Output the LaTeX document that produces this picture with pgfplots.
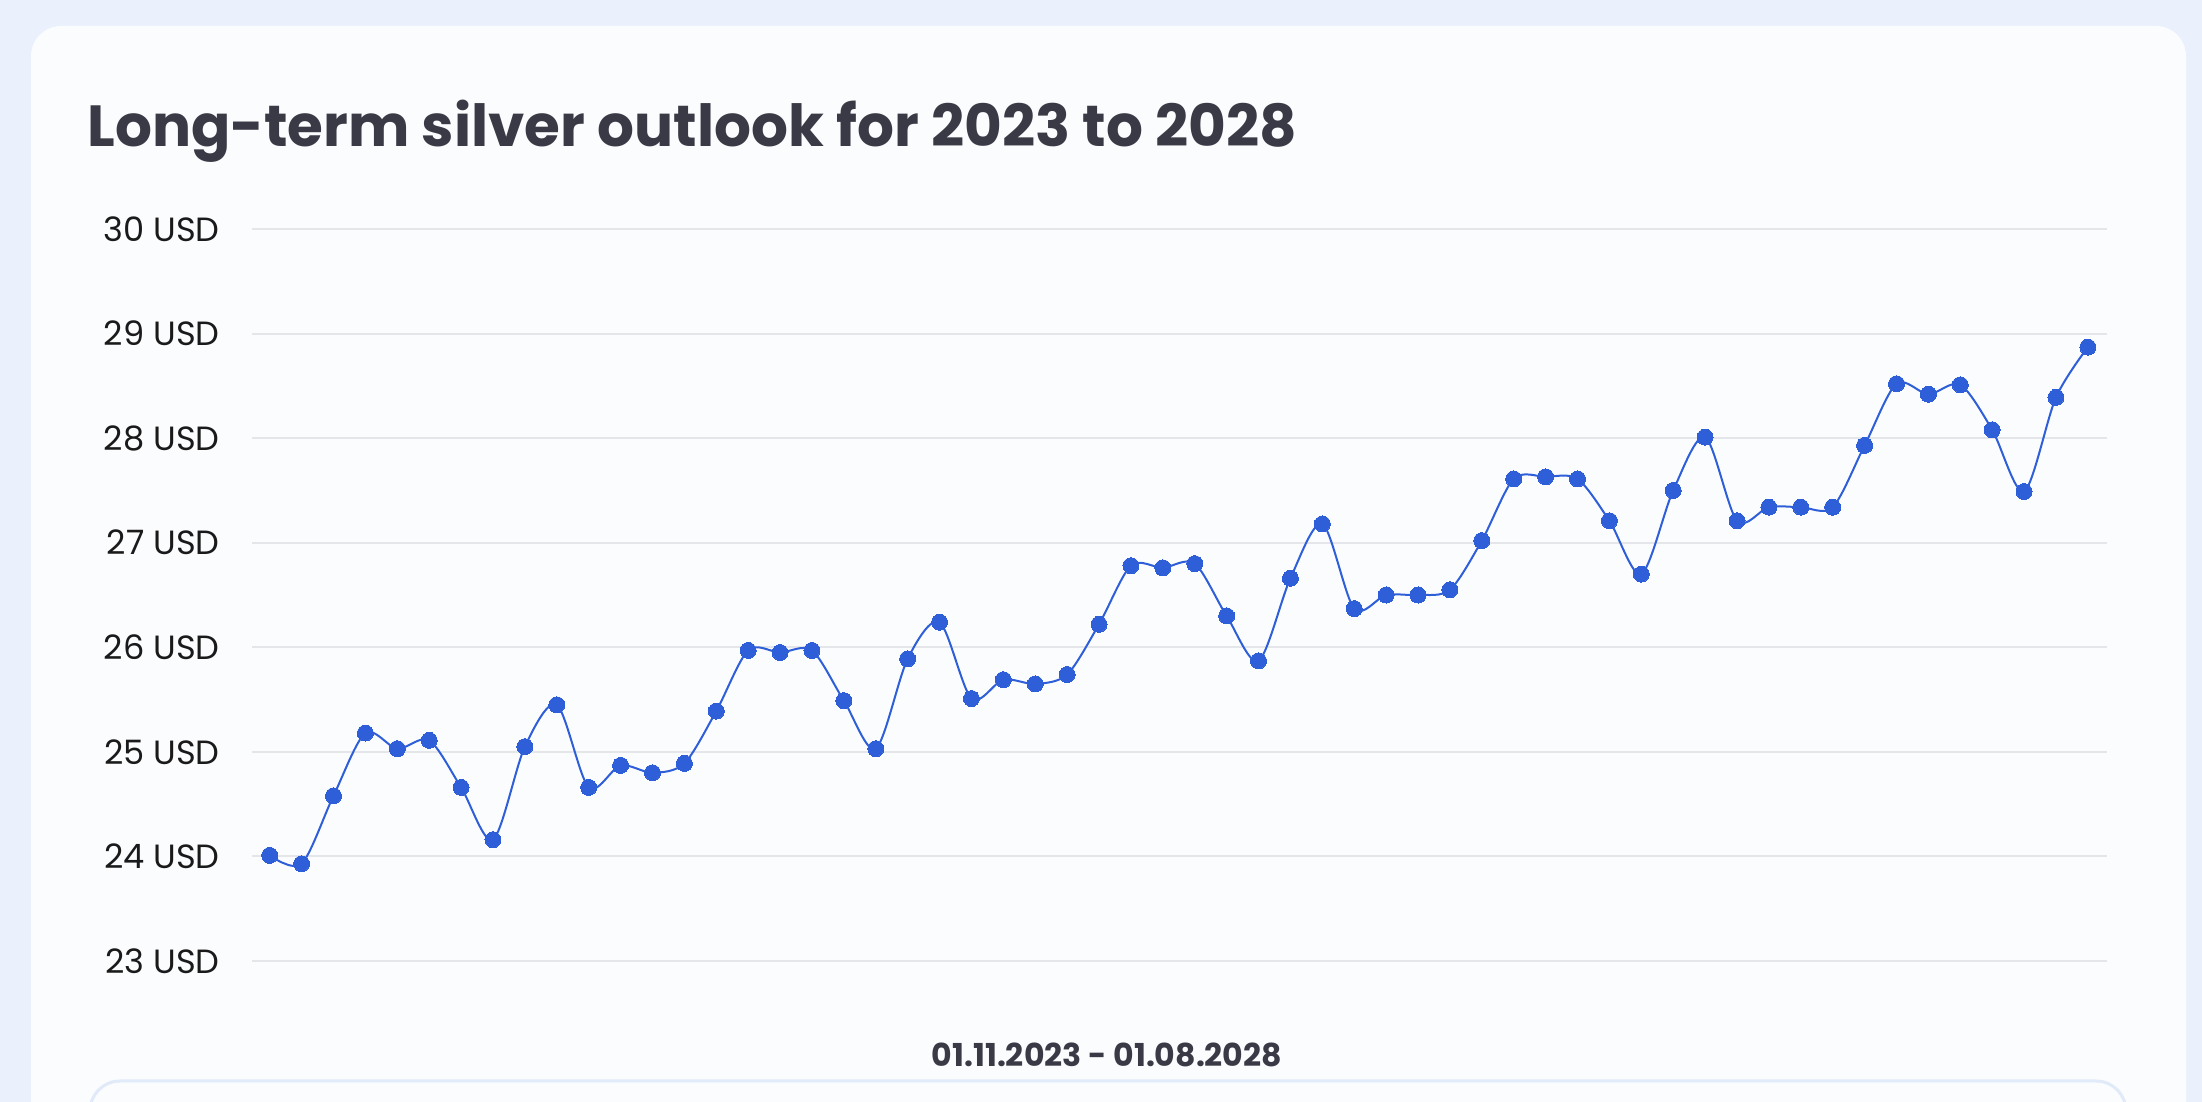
\documentclass[border=0pt]{standalone}
\usepackage{fontspec}
\setmainfont{Poppins}
\usepackage{pgfplots}
\pgfplotsset{compat=1.18}
\definecolor{outerbg}{HTML}{EAF1FC}
\definecolor{cardbg}{HTML}{FBFCFE}
\definecolor{boxline}{HTML}{E0EAF9}
\definecolor{titlec}{HTML}{393A45}
\definecolor{tickc}{HTML}{1A1A1A}
\definecolor{linec}{HTML}{2E5FD8}
\definecolor{gridc}{HTML}{E4E6EA}
\begin{document}
\begin{tikzpicture}
\useasboundingbox (0pt,0pt) rectangle (1101pt,551pt);
\fill[outerbg] (0pt,0pt) rectangle (1101pt,551pt);
\fill[cardbg, rounded corners=15pt] (15.5pt,-30pt) rectangle (1093pt,538pt);
\draw[boxline, line width=1.5pt, fill=cardbg, rounded corners=15pt] (45pt,-30pt) rectangle (1063pt,10.5pt);
\node[anchor=base west, inner sep=0pt, text=titlec, font=\fontsize{29}{34}\selectfont\bfseries] at (43.5pt,477.5pt) {Long-term silver outlook for 2023 to 2028};
\node[anchor=base, inner sep=0pt, text=titlec, font=\fontsize{15.8}{18}\selectfont\bfseries] at (553.5pt,17.5pt) {01.11.2023 - 01.08.2028};
\begin{axis}[
  at={(126pt,70.5pt)}, anchor=south west,
  scale only axis, width=927.5pt, height=366pt,
  xmin=-0.555, xmax=57.6, ymin=23, ymax=30,
  axis line style={draw=none},
  xtick=\empty,
  ytick={23,24,25,26,27,28,29,30},
  yticklabels={23 USD,24 USD,25 USD,26 USD,27 USD,28 USD,29 USD,30 USD},
  major tick length=0pt,
  ymajorgrids,
  grid style={gridc, line width=1pt},
  yticklabel style={font=\fontsize{16.8}{19}\selectfont, text=tickc, anchor=east, inner sep=0pt, xshift=-16pt},
  clip=false,
]
\addplot[linec, line width=1pt, smooth, tension=0.5, mark=*, mark size=4pt, mark options={fill=linec, draw=linec, line width=0pt}] coordinates {
(0,24.01) (1,23.93) (2,24.58) (3,25.18) (4,25.03) (5,25.11) (6,24.66) (7,24.16) (8,25.05) (9,25.45)
(10,24.66) (11,24.87) (12,24.80) (13,24.89) (14,25.39) (15,25.97) (16,25.95) (17,25.97) (18,25.49) (19,25.03)
(20,25.89) (21,26.24) (22,25.51) (23,25.69) (24,25.65) (25,25.74) (26,26.22) (27,26.78) (28,26.76) (29,26.80)
(30,26.30) (31,25.87) (32,26.66) (33,27.18) (34,26.37) (35,26.50) (36,26.50) (37,26.55) (38,27.02) (39,27.61)
(40,27.63) (41,27.61) (42,27.21) (43,26.70) (44,27.50) (45,28.01) (46,27.21) (47,27.34) (48,27.34) (49,27.34)
(50,27.93) (51,28.52) (52,28.42) (53,28.51) (54,28.08) (55,27.49) (56,28.39) (57,28.87)
};
\end{axis}
\end{tikzpicture}
\end{document}
